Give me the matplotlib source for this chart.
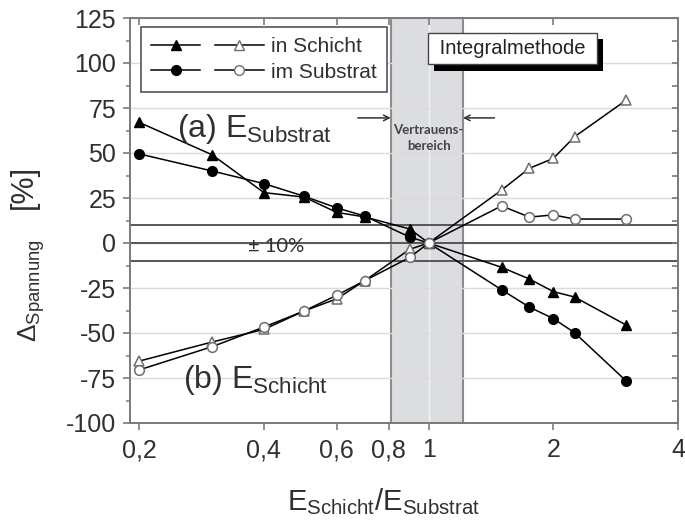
import numpy as np
import matplotlib
matplotlib.use('Agg')
import matplotlib.pyplot as plt
from matplotlib.legend_handler import HandlerTuple
from matplotlib.lines import Line2D
import matplotlib.patheffects as pe
from matplotlib.ticker import FixedLocator, FixedFormatter, NullLocator, NullFormatter

plt.rcParams['font.family'] = ['Liberation Sans', 'DejaVu Sans']
plt.rcParams['mathtext.fontset'] = 'custom'
plt.rcParams['mathtext.rm'] = 'Liberation Sans'
plt.rcParams['mathtext.it'] = 'Liberation Sans:italic'
plt.rcParams['mathtext.bf'] = 'Liberation Sans:bold'

# ---------------- data ----------------
ratio = [0.2, 0.3, 0.4, 0.5, 0.6, 0.7, 0.9, 1.0, 1.5, 1.75, 2.0, 2.25, 3.0]
# (a) E_Substrat varied -> filled markers
a_schicht = [67, 49, 28, 25.5, 17, 14.5, 7.8, 0, -13.5, -20, -27, -30, -45.6]
a_substrat = [49.5, 40, 33, 26, 19.5, 15, 3.3, 0, -26, -35.6, -42, -49.8, -76.7]
# (b) E_Schicht varied -> open markers
b_schicht = [-65.6, -55, -48, -37.8, -31, -21, -3.5, 0, 29.4, 41.5, 47, 59, 79.4]
b_substrat = [-70.5, -57.6, -46.7, -37.8, -29, -21, -8, 0, 20.6, 14.4, 15.6, 13.3, 13.3]

x_ticks = [0.2, 0.4, 0.6, 0.8, 1, 2, 4]
x_tick_labels = ['0,2', '0,4', '0,6', '0,8', '1', '2', '4']
y_ticks = [-100, -75, -50, -25, 0, 25, 50, 75, 100, 125]
y_tick_labels = ['-100', '-75', '-50', '-25', '0', '25', '50', '75', '100', '125']
y_minor = [-87.5, -62.5, -37.5, -12.5, 12.5, 37.5, 62.5, 87.5, 112.5]
conf_range = [0.81, 1.21]
tol_levels = [-10, 0, 10]
legend_labels = ['in Schicht', 'im Substrat']

SPINE = '#7a7a7a'
TXT = '#303030'

fig = plt.figure(figsize=(6.85, 5.30), dpi=100)
ax = fig.add_axes([130/685, 107/530, 548/685, 405/530])
ax.set_xscale('log')
ax.set_xlim(0.19, 4)
ax.set_ylim(-100, 125)

# confidence region
ax.axvspan(conf_range[0], conf_range[1], facecolor='#dcdde0', edgecolor='#8c8c8c', lw=1.5, zorder=0.2)
ax.axvline(1, color='#f2f2f2', lw=1, zorder=0.3)

# grid
for y in y_ticks:
    ax.axhline(y, color='#dadada', lw=1, zorder=0.5)
for y in tol_levels:
    ax.axhline(y, color='#4a4a4a', lw=1.3, zorder=1.5)

# data
lw = 1.1
ax.plot(ratio, a_schicht, color='black', lw=lw, marker='^', ms=7.5, mfc='black', mec='black', zorder=3)
ax.plot(ratio, a_substrat, color='black', lw=lw, marker='o', ms=7, mfc='black', mec='black', zorder=3)
ax.plot(ratio, b_schicht, color='black', lw=lw, marker='^', ms=7.5, mfc='white', mec='#6e6e6e', mew=1.1, zorder=4)
ax.plot(ratio, b_substrat, color='black', lw=lw, marker='o', ms=7, mfc='white', mec='#6e6e6e', mew=1.1, zorder=4)

# spines and ticks
for s in ax.spines.values():
    s.set_color(SPINE)
    s.set_linewidth(1.4)
ax.xaxis.set_major_locator(FixedLocator(x_ticks))
ax.xaxis.set_major_formatter(FixedFormatter(x_tick_labels))
ax.xaxis.set_minor_locator(NullLocator())
ax.yaxis.set_major_locator(FixedLocator(y_ticks))
ax.yaxis.set_major_formatter(FixedFormatter(y_tick_labels))
ax.yaxis.set_minor_locator(FixedLocator(y_minor))
ax.tick_params(axis='both', which='major', direction='out', length=5, width=1.2,
               color=SPINE, labelsize=18, labelcolor=TXT)
ax.tick_params(axis='x', pad=6)
ax.tick_params(axis='y', pad=5)
ax.tick_params(axis='y', which='minor', direction='out', length=3, width=1.1, color=SPINE)

axt = ax.twiny()
axt.set_xscale('log')
axt.set_xlim(ax.get_xlim())
axt.xaxis.set_major_locator(FixedLocator(x_ticks))
axt.xaxis.set_minor_locator(NullLocator())
axt.xaxis.set_major_formatter(NullFormatter())
axt.tick_params(axis='x', direction='in', length=5, width=1.2, color=SPINE)
axr = ax.twinx()
axr.set_ylim(ax.get_ylim())
axr.yaxis.set_major_locator(FixedLocator(y_ticks))
axr.yaxis.set_minor_locator(FixedLocator(y_minor))
axr.yaxis.set_major_formatter(NullFormatter())
axr.tick_params(axis='y', which='both', direction='in', length=4, width=1.2, color=SPINE)
for a2 in (axt, axr):
    for s in a2.spines.values():
        s.set_visible(False)

# legend
h1 = Line2D([], [], color='black', lw=lw, marker='^', ms=7.5, mfc='black', mec='black')
h2 = Line2D([], [], color='black', lw=lw, marker='^', ms=7.5, mfc='white', mec='#6e6e6e')
h3 = Line2D([], [], color='black', lw=lw, marker='o', ms=7, mfc='black', mec='black')
h4 = Line2D([], [], color='black', lw=lw, marker='o', ms=7, mfc='white', mec='#6e6e6e')
leg = ax.legend([(h1, h2), (h3, h4)], legend_labels,
                handler_map={tuple: HandlerTuple(ndivide=None, pad=0.7)},
                loc='upper left', bbox_to_anchor=(0.02, 0.978), borderaxespad=0, fontsize=15,
                handlelength=5.4, handletextpad=0.35, borderpad=0.5, labelspacing=0.3,
                frameon=True, fancybox=False, edgecolor='#555555', framealpha=1)
leg.get_frame().set_linewidth(1.2)
for t in leg.get_texts():
    t.set_color(TXT)
leg.set_zorder(6)

# Integralmethode box with shadow
t = ax.text(1.594, 108.3, ' Integralmethode ', ha='center', va='center', fontsize=14.5, color='#222222',
            bbox=dict(boxstyle='square,pad=0.3', fc='white', ec='#444444', lw=1), zorder=6)
t.get_bbox_patch().set_path_effects([pe.SimplePatchShadow(offset=(4.5, -5), shadow_rgbFace='black', alpha=1),
                                     pe.Normal()])

# annotations
ax.text(0.247, 58.9, r'(a) $\mathrm{E_{Substrat}}$', fontsize=23, color=TXT, va='baseline', ha='left', zorder=5)
ax.text(0.255, -80.5, r'(b) $\mathrm{E_{Schicht}}$', fontsize=23, color=TXT, va='baseline', ha='left', zorder=5)
ax.text(0.366, -5, '± 10%', fontsize=14.5, color=TXT, va='baseline', ha='left', family=['Lato', 'DejaVu Sans'], zorder=5)
ax.text(1.0, 58.3, 'Vertrauens-\nbereich', ha='center', va='center', fontsize=9.5, fontweight='bold',
        family=['Lato', 'DejaVu Sans'], color='#444444', linespacing=1.35, zorder=5)
ax.annotate('', xy=(conf_range[0], 69.5), xytext=(0.674, 69.5),
            arrowprops=dict(arrowstyle='->', color='#333333', lw=1.1, shrinkA=0, shrinkB=0), zorder=5)
ax.annotate('', xy=(conf_range[1], 69.5), xytext=(1.442, 69.5),
            arrowprops=dict(arrowstyle='->', color='#333333', lw=1.1, shrinkA=0, shrinkB=0), zorder=5)

# axis labels
fig.text(383/685, 1 - 510/530, r'$\mathrm{E_{Schicht}/E_{Substrat}}$', fontsize=21, ha='center', va='baseline', color=TXT)
fig.text(32/685, (530 - 342)/530, r'$\mathrm{Δ_{Spannung}}$', fontsize=19, rotation=90, ha='center', va='bottom', color=TXT)
fig.text(23.5/685, (530 - 187)/530, '[%]', fontsize=22, rotation=90, ha='center', va='center', color=TXT)

fig.savefig('out.png', dpi=100, facecolor='white')
